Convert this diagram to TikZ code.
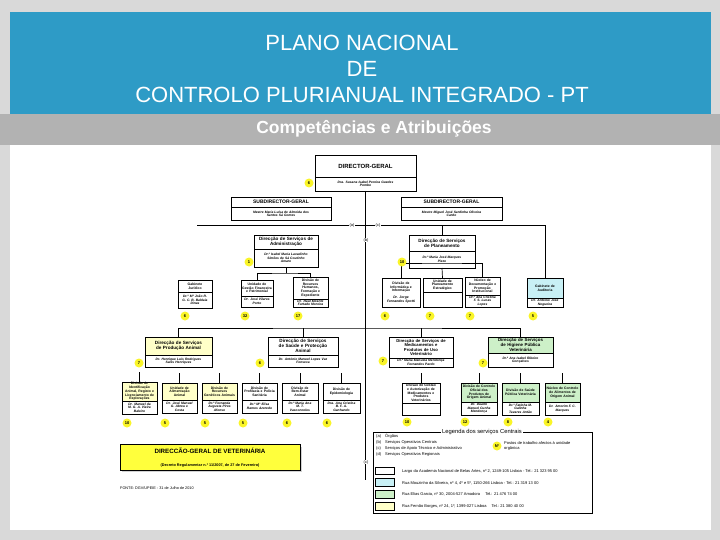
\documentclass[tikz,border=0pt]{standalone}
\usepackage{fontspec}
\setmainfont{Liberation Sans}
\usetikzlibrary{positioning,shadows}
\definecolor{bandblue}{RGB}{46,155,198}
\definecolor{bandgray}{RGB}{178,178,178}
\definecolor{pagegray}{RGB}{217,217,217}
\definecolor{ylw}{RGB}{255,255,200}
\definecolor{cyn}{RGB}{200,240,245}
\definecolor{grn}{RGB}{205,240,200}
\definecolor{dot}{RGB}{250,245,40}
\definecolor{dgvyellow}{RGB}{255,255,60}

\tikzset{
  hdr/.style={text=white, align=center, font=\fontsize{22}{26}\selectfont},
  unit/.style={draw, line width=0.7pt, outer sep=0pt, inner sep=0.5pt, align=center, fill=white,
    font=\bfseries\fontsize{3.4}{3.7}\selectfont},
  who/.style={unit, font=\bfseries\itshape\fontsize{3.3}{3.6}\selectfont},
  num/.style={circle, fill=dot, inner sep=0pt, minimum size=9pt, font=\bfseries\fontsize{4}{4}\selectfont},
  wire/.style={line width=0.7pt},
  tag/.style={fill=white, inner sep=0.6pt, font=\fontsize{4}{4}\selectfont},
  leg/.style={anchor=west, inner sep=0pt, font=\fontsize{4}{4.6}\selectfont},
}

\begin{document}
\begin{tikzpicture}[x=1pt, y=-1pt]
\useasboundingbox (0,0) rectangle (720,540);
% page and bands
\fill[pagegray] (0,0) rectangle (720,540);
\fill[bandblue] (10,12) rectangle (711,114);
\fill[bandgray] (0,114) rectangle (720,145);
\fill[white] (10,145) rectangle (711,530);
\node[hdr] (title) at (362,69) {PLANO NACIONAL\\DE\\CONTROLO PLURIANUAL INTEGRADO - PT};
\node[text=white, font=\bfseries\fontsize{17.5}{20}\selectfont] (subtitle) at (374,129) {Competências e Atribuições};

% direccao e subdireccao
\node[unit, text width=100pt, minimum height=22pt, font=\bfseries\fontsize{6}{7}\selectfont] (dgT) at (365.5,166) {DIRECTOR-GERAL};
\node[who, text width=100pt, minimum height=14pt, below=0pt of dgT] (dgN) {Dra. Susana Isabel Pereira Guedes\\Pombo};
\node[unit, text width=99pt, minimum height=10.5pt, font=\bfseries\fontsize{5}{6}\selectfont] (sdaT) at (281,202.25) {SUBDIRECTOR-GERAL};
\node[who, text width=99pt, minimum height=12.5pt, below=0pt of sdaT] (sdaN) {Mestre Maria Luísa de Almeida dos\\Santos Sá Gomes};
\node[unit, text width=100pt, minimum height=10.5pt, font=\bfseries\fontsize{5}{6}\selectfont] (sdbT) at (451.5,202.25) {SUBDIRECTOR-GERAL};
\node[who, text width=100pt, minimum height=12.5pt, below=0pt of sdbT] (sdbN) {Mestre Miguel José Sardinha Oliveira\\Cardo};

\coordinate (topL) at (197,225);
\coordinate (topR) at (545,225);
\coordinate (trunkEnd) at (365.5,480);
\coordinate (midRow) at (365.5,328);

% servicos de apoio
\node[unit, text width=63pt, minimum height=14pt, font=\bfseries\fontsize{4.6}{5.2}\selectfont] (dsaT) at (286,242) {Direcção de Serviços de\\Administração};
\node[who, text width=63pt, minimum height=18pt, below=0pt of dsaT] (dsaN) {Dr.ª Isabel Maria Lavadinho\\Simões de Sá Coutinho\\Amaro};
\node[unit, text width=33pt, minimum height=12pt] (gjT) at (195,286) {Gabinete\\Jurídico};
\node[who, text width=33pt, minimum height=16pt, below=0pt of gjT] (gjN) {Dr.ª Mª João R.\\G. C. B. Baldaia\\Dinas};
\node[unit, text width=31pt, minimum height=16pt] (ugfT) at (257,288) {Unidade de\\Gestão Financeira\\e Patrimonial};
\node[who, text width=31pt, minimum height=11pt, below=0pt of ugfT] (ugfN) {Dr. José Vilares\\Porto};
\node[unit, text width=34pt, minimum height=22pt] (drhT) at (310.5,288) {Divisão de\\Recursos\\Humanos,\\Formação e\\Expediente};
\node[who, text width=34pt, minimum height=8pt, below=0pt of drhT] (drhN) {Dr. Raul Mirante\\Furtado Moreira};

\node[unit, text width=65pt, minimum height=16pt, font=\bfseries\fontsize{4.6}{5.2}\selectfont] (dspT) at (442,243) {Direcção de Serviços\\de Planeamento};
\node[who, text width=65pt, minimum height=17pt, below=0pt of dspT] (dspN) {Dr.ª Maria José Marques\\Pizzo};
\node[unit, text width=37pt, minimum height=29pt] (dinT) at (401,292.5) {Divisão de\\Informática e\\Informação\\[3pt]{\itshape Dr. Jorge\\Fernandes Spotti}};
\node[unit, text width=38pt, minimum height=14pt] (upeT) at (442.5,285) {Unidade de\\Planeamento\\Estratégico};
\node[who, text width=38pt, minimum height=15pt, below=0pt of upeT] (upeN) {};
\node[unit, text width=34pt, minimum height=18pt] (ndpT) at (482.5,286) {Núcleo de\\Documentação e\\Promoção\\Institucional};
\node[who, text width=34pt, minimum height=12pt, below=0pt of ndpT] (ndpN) {Dr.ª Ana Cristina\\F. S. Lucas\\Lopes};
\node[unit, fill=cyn, text width=35pt, minimum height=20pt] (audT) at (545,288) {Gabinete de\\Auditoria};
\node[who, text width=35pt, minimum height=9pt, below=0pt of audT] (audN) {Dr. António José\\Nogueira};

% servicos operativos
\node[unit, fill=ylw, text width=66pt, minimum height=18pt, font=\bfseries\fontsize{4.6}{5.2}\selectfont] (dpaT) at (178.5,346) {Direcção de Serviços\\de Produção Animal};
\node[who, text width=66pt, minimum height=12pt, below=0pt of dpaT] (dpaN) {Dr. Henrique Luís Rodrigues\\Sales Henriques};
\node[unit, text width=69pt, minimum height=18pt, font=\bfseries\fontsize{4.6}{5.2}\selectfont] (dspaT) at (303,346) {Direcção de Serviços\\de Saúde e Protecção\\Animal};
\node[who, text width=69pt, minimum height=12pt, below=0pt of dspaT] (dspaN) {Dr. António Manuel Lopes Vaz\\Fonseca};
\node[unit, text width=63pt, minimum height=21pt, font=\bfseries\fontsize{4.2}{4.6}\selectfont] (dmvT) at (421,347.5) {Direcção de Serviços de\\Medicamentos e\\Produtos de Uso\\Veterinário};
\node[who, text width=63pt, minimum height=9pt, below=0pt of dmvT] (dmvN) {Dr.ª Maria Manuela Mendonça\\Fernandes Pardo};
\node[unit, fill=grn, text width=64pt, minimum height=16pt, font=\bfseries\fontsize{4.4}{4.9}\selectfont] (hpvT) at (520.5,345) {Direcção de Serviços\\de Higiene Pública\\Veterinária};
\node[who, text width=64pt, minimum height=14pt, below=0pt of hpvT] (hpvN) {Dr.ª Ana Isabel Ribeiro\\Gonçalves};

% divisoes
\node[unit, fill=ylw, text width=34pt, minimum height=17pt] (diaT) at (139.5,391.5) {Divisão de Identificação\\Animal, Registo e\\Licenciamento de\\Explorações};
\node[who, text width=34pt, minimum height=13pt, below=0pt of diaT] (diaN) {Dr. Manuel da\\M. G. A. Vieira\\Baleiro};
\node[unit, fill=ylw, text width=34pt, minimum height=17pt] (uaaT) at (179.5,391.5) {Unidade de\\Alimentação\\Animal};
\node[who, text width=34pt, minimum height=13pt, below=0pt of uaaT] (uaaN) {Dr. José Manuel\\G. Abreu e\\Costa};
\node[unit, fill=ylw, text width=34pt, minimum height=17pt] (drgT) at (219.5,391.5) {Divisão de\\Recursos\\Genéticos Animais};
\node[who, text width=34pt, minimum height=13pt, below=0pt of drgT] (drgN) {Dr.ª Fernanda\\Augusta Pires\\Afonso};
\node[unit, text width=34pt, minimum height=17pt] (dppT) at (259.5,391.5) {Divisão de\\Profilaxia e Polícia\\Sanitária};
\node[who, text width=34pt, minimum height=13pt, below=0pt of dppT] (dppN) {Dr.ª Mª Elisa\\Ramos Azeredo};
\node[unit, text width=35pt, minimum height=17pt] (dbeT) at (300,391.5) {Divisão de\\Bem-Estar\\Animal};
\node[who, text width=35pt, minimum height=13pt, below=0pt of dbeT] (dbeN) {Dr.ª Maria Ana\\M. T.\\Vasconcelos};
\node[unit, text width=36pt, minimum height=17pt] (depT) at (341.5,391.5) {Divisão de\\Epidemiologia};
\node[who, text width=36pt, minimum height=13pt, below=0pt of depT] (depN) {Dra. Ana Cristina\\B. F. A.\\Ganhando};
\node[unit, text width=37pt, minimum height=20pt] (dgmT) at (421,393) {Divisão de Gestão\\e Autorização de\\Medicamentos e\\Produtos\\Veterinários};
\node[who, text width=37pt, minimum height=12pt, below=0pt of dgmT] (dgmN) {};
\node[unit, fill=grn, text width=35pt, minimum height=19pt] (hpaT) at (479,392.5) {Divisão de Controlo\\Oficial dos\\Produtos de\\Origem Animal};
\node[who, text width=35pt, minimum height=13pt, below=0pt of hpaT] (hpaN) {Dr. Duarte\\Manuel Cunha\\Mendonça};
\node[unit, fill=grn, text width=36pt, minimum height=19pt] (hpbT) at (520.5,392.5) {Divisão de Saúde\\Pública Veterinária};
\node[who, text width=36pt, minimum height=13pt, below=0pt of hpbT] (hpbN) {Dr.ª Fatinha M.\\Galinha\\Tavares Antão};
\node[unit, fill=grn, text width=34pt, minimum height=19pt] (hpcT) at (562.5,392.5) {Núcleo de Controlo\\de Alimentos de\\Origem Animal};
\node[who, text width=34pt, minimum height=13pt, below=0pt of hpcT] (hpcN) {Dr. Amorim F. C.\\Marques};

% ligacoes
\draw[wire] (dgN.south) -- (trunkEnd);
\draw[wire] (topL) -- (topR) -- (audT.north);
\draw[wire] (dspT.north) -- (dspT.north |- topR);
\draw[wire] (dsaN.south) -- ++(0,6) coordinate (admFork);
\draw[wire] (ugfT.north) |- (admFork) -| (drhT.north);
\draw[wire] (dspN.south) -- (upeT.north);
\draw[wire] (dinT.north) |- ([yshift=5pt]dspN.south) -| (ndpT.north);
\draw[wire] (dpaT.north) |- (midRow) -| (hpvT.north);
\draw[wire] (dspaT.north) -- (dspaT.north |- midRow);
\draw[wire] (dmvT.north) -- (dmvT.north |- midRow);
\foreach \u in {diaT,uaaT,drgT,dppT,dbeT,depT,dgmT,hpaT,hpbT,hpcT}
  \draw[wire] (\u.north) -- ++(0,-10);
\node[tag] (tagA) at (352,225) {(a)};
\node[tag] (tagC) at (378,225) {(c)};
\node[tag] (tagB) at (366,240) {(b)};
\node[tag] (tagD) at (366,462) {(c)};

% postos de trabalho
\node[num] (nDG) at (309,183) {6};
\node[num] (nDSA) at (249,262) {1};
\node[num] (nGJ) at (185,316) {6};
\node[num] (nUGF) at (245,316) {32};
\node[num] (nDRH) at (298,316) {17};
\node[num] (nDSP) at (402,262) {10};
\node[num] (nDIN) at (385,316) {6};
\node[num] (nUPE) at (430,316) {7};
\node[num] (nNDP) at (470,316) {7};
\node[num] (nAUD) at (533,316) {5};
\node[num] (nDPA) at (139,363) {7};
\node[num] (nDSPA) at (260,363) {6};
\node[num] (nDMV) at (383,361) {7};
\node[num] (nHPV) at (483,363) {7};
\node[num] (nDIA) at (127,423) {10};
\node[num] (nUAA) at (165,423) {5};
\node[num] (nDRG) at (205,423) {5};
\node[num] (nDPP) at (243,423) {5};
\node[num] (nDBE) at (287,423) {6};
\node[num] (nDEP) at (327,423) {6};
\node[num] (nDGM) at (407,422) {10};
\node[num] (nHPA) at (465,422) {12};
\node[num] (nHPB) at (508,422) {8};
\node[num] (nHPC) at (548,422) {4};

% legenda
\node[draw, line width=0.7pt, minimum width=219pt, minimum height=81pt] (legend) at (482.5,472.5) {};
\node[fill=white, inner sep=1pt, font=\fontsize{5.8}{6}\selectfont] (legTitle) at (482,432) {Legenda dos serviços Centrais};
\node[leg] (legA) at (376,436) {(a)\quad Órgãos};
\node[leg] (legB) at (376,442) {(b)\quad Serviços Operativos Centrais};
\node[leg] (legC) at (376,448) {(c)\quad Serviços de Apoio Técnico e Administrativo};
\node[leg] (legD) at (376,454) {(d)\quad Serviços Operativos Regionais};
\node[num] (legN) at (497,446) {Nº};
\node[leg, align=left] (legNtxt) at (504,446) {Postos de trabalho afectos à unidade\\orgânica};
\node[draw, fill=white, minimum width=19pt, minimum height=7pt, inner sep=0pt] (swW) at (384.5,470.5) {};
\node[draw, fill=cyn, minimum width=19pt, minimum height=8pt, inner sep=0pt] (swC) at (384.5,482.5) {};
\node[draw, fill=grn, minimum width=19pt, minimum height=8pt, inner sep=0pt] (swG) at (384.5,494) {};
\node[draw, fill=ylw, minimum width=19pt, minimum height=8pt, inner sep=0pt] (swY) at (384.5,506) {};
\node[leg] (adW) at (402,471) {Largo da Academia Nacional de Belas Artes, nº 2, 1249-105 Lisboa - Tel.: 21 323 95 00};
\node[leg] (adC) at (402,483) {Rua Mouzinho da Silveira, nº 4, 4º e 5º, 1150-266 Lisboa - Tel.: 21 319 13 00};
\node[leg] (adG) at (402,494) {Rua Elias Garcia, nº 30, 2004-527 Amadora \quad Tel.: 21 476 74 00};
\node[leg] (adY) at (402,506) {Rua Fernão Borges, nº 24, 1º, 1399-027 Lisboa \quad Tel.: 21 380 40 00};

% titulo do organograma
\node[draw, line width=0.7pt, fill=dgvyellow, minimum width=180pt, minimum height=25pt, align=center,
  drop shadow={shadow xshift=2pt, shadow yshift=-2pt, fill=gray!70}] (dgv) at (210,457.5)
  {{\bfseries\fontsize{6.2}{7}\selectfont DIRECCÃO-GERAL DE VETERINÁRIA}\\[1pt]
   {\bfseries\fontsize{3.8}{4}\selectfont (Decreto Regulamentar n.º 11/2007, de 27 de Fevereiro)}};
\node[anchor=west, inner sep=0pt, font=\fontsize{3.8}{4}\selectfont] (fonte) at (120,488) {FONTE: DGV/UPEIE - 31 de Julho de 2010};
\end{tikzpicture}
\end{document}
